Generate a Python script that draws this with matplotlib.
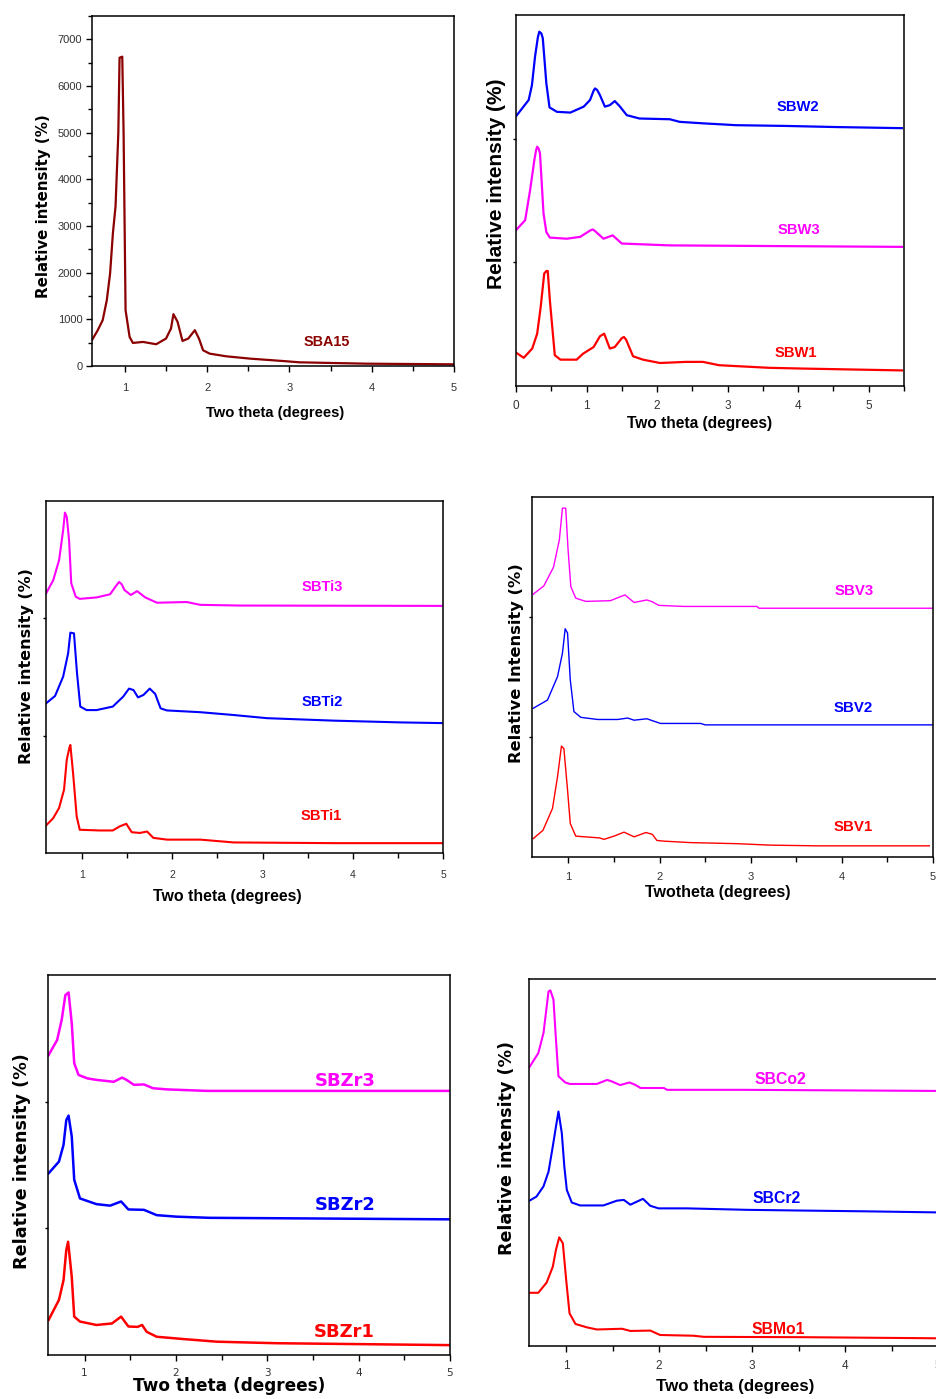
import matplotlib
matplotlib.use("Agg")
import matplotlib.pyplot as plt
from matplotlib import font_manager
from matplotlib.ticker import MultipleLocator, NullFormatter

W, H = 937, 1399

names = {f.name for f in font_manager.fontManager.ttflist}
HAS_NARROW = "Liberation Sans Narrow" in names
NARROW = ["Liberation Sans Narrow", "Liberation Sans", "DejaVu Sans"] if HAS_NARROW \
    else ["Liberation Sans", "DejaVu Sans"]
SQ = 1.0 if HAS_NARROW else 0.83   # shrink when no condensed face
ARIAL = ["Liberation Sans", "DejaVu Sans"]
WIDE = ["DejaVu Sans"]

DARKRED, BLUE, MAGENTA, RED = "#8B0000", "#0000FF", "#FF00FF", "#FF0000"

# ---- panel 1: SBA15 (counts)
sba15_x = [0.603, 0.67, 0.73, 0.78, 0.82, 0.854, 0.886, 0.92, 0.935, 0.968, 0.984, 1.008, 1.057, 1.097,
           1.22, 1.38, 1.50, 1.56, 1.59, 1.64, 1.70, 1.77, 1.85, 1.90, 1.95, 2.03, 2.23, 2.52, 2.92,
           3.12, 3.53, 3.93, 4.99]
sba15_y = [566, 767, 982, 1411, 1985, 2845, 3418, 4994, 6606, 6628, 4994, 1197, 623, 494,
           516, 466, 588, 803, 1111, 946, 537, 588, 767, 588, 337, 265, 208, 158, 107,
           79, 64, 50, 36]

# ---- panel 2: SBW (stacked, arbitrary units 0-100)
sbw2_x = [0, 0.18, 0.226, 0.27, 0.31, 0.33, 0.36, 0.38, 0.43, 0.475, 0.58, 0.77, 0.96, 1.05, 1.10, 1.12,
          1.15, 1.19, 1.26, 1.33, 1.40, 1.47, 1.57, 1.75, 2.18, 2.32, 2.65, 3.12, 3.82, 4.53, 5.47]
sbw2_y = [72.7, 77.1, 81.1, 88.8, 94.0, 95.5, 95.0, 93.7, 81.6, 75.1, 73.9, 73.7, 75.3, 77.1, 79.6, 80.2,
          79.8, 78.4, 75.3, 75.7, 76.8, 75.4, 73.0, 72.1, 71.9, 71.2, 70.8, 70.3, 70.1, 69.8, 69.5]
sbw3_x = [0, 0.13, 0.2, 0.26, 0.285, 0.30, 0.32, 0.34, 0.39, 0.43, 0.48, 0.72, 0.91, 1.05, 1.09, 1.13,
          1.24, 1.37, 1.50, 2.18, 5.47]
sbw3_y = [42.0, 44.7, 52.8, 60.9, 63.6, 64.5, 64.0, 62.7, 46.5, 41.5, 40.0, 39.7, 40.2, 41.9, 42.2, 41.6,
          39.7, 40.6, 38.4, 37.9, 37.5]
sbw1_x = [0, 0.11, 0.23, 0.30, 0.35, 0.40, 0.43, 0.45, 0.48, 0.55, 0.63, 0.86, 0.95, 1.10, 1.19, 1.25,
          1.33, 1.40, 1.50, 1.53, 1.56, 1.66, 1.80, 2.04, 2.41, 2.65, 2.88, 3.59, 4.06, 5.47]
sbw1_y = [9.0, 7.6, 10.1, 14.1, 21.3, 30.3, 31.0, 31.0, 23.1, 8.3, 7.1, 7.1, 8.7, 10.5, 13.4, 14.1,
          10.1, 10.5, 12.9, 13.2, 12.5, 8.0, 7.1, 6.2, 6.5, 6.5, 5.6, 4.9, 4.7, 4.2]

# ---- panel 3: SBTi
sbti3_x = [0.6, 0.68, 0.745, 0.79, 0.81, 0.83, 0.856, 0.88, 0.93, 0.974, 1.16, 1.31, 1.38, 1.41, 1.44,
           1.47, 1.54, 1.61, 1.70, 1.83, 2.16, 2.31, 2.75, 5.0]
sbti3_y = [73.7, 77.5, 83.2, 91.7, 96.7, 95.5, 88.8, 76.6, 72.8, 72.2, 72.6, 73.5, 76.0, 77.0, 76.3,
           74.7, 73.3, 74.4, 72.6, 71.1, 71.3, 70.5, 70.3, 70.2]
sbti2_x = [0.6, 0.70, 0.79, 0.845, 0.87, 0.91, 0.944, 0.98, 1.05, 1.16, 1.34, 1.455, 1.52, 1.57, 1.62,
           1.68, 1.75, 1.81, 1.87, 1.94, 2.31, 2.68, 3.05, 3.79, 4.53, 5.0]
sbti2_y = [42.5, 44.6, 50.1, 56.7, 62.6, 62.4, 51.0, 41.6, 40.6, 40.6, 41.6, 44.4, 46.7, 46.3, 44.2,
           44.9, 46.7, 45.2, 41.1, 40.5, 40.0, 39.2, 38.3, 37.6, 37.1, 36.9]
sbti1_x = [0.6, 0.68, 0.745, 0.80, 0.83, 0.86, 0.87, 0.90, 0.94, 0.974, 1.196, 1.34, 1.42, 1.49, 1.55,
           1.64, 1.72, 1.79, 1.94, 2.31, 2.68, 3.79, 4.53, 5.0]
sbti1_y = [7.8, 9.9, 12.8, 18.0, 26.5, 30.0, 30.7, 22.7, 10.4, 6.6, 6.4, 6.4, 7.6, 8.3, 5.9,
           5.7, 6.1, 4.3, 3.8, 3.8, 3.0, 2.8, 2.8, 2.8]

# ---- panel 4: SBV
sbv3_x = [0.613, 0.73, 0.836, 0.90, 0.934, 0.97, 0.996, 1.026, 1.08, 1.19, 1.46, 1.62, 1.72, 1.86, 1.92,
          1.99, 2.27, 3.07, 3.09, 5.0]
sbv3_y = [73.0, 75.3, 80.5, 88.1, 96.9, 96.9, 85.3, 75.1, 71.9, 71.0, 71.2, 72.8, 70.7, 71.4, 70.9,
          69.9, 69.6, 69.6, 69.1, 69.1]
sbv2_x = [0.613, 0.77, 0.88, 0.934, 0.964, 0.99, 1.02, 1.06, 1.135, 1.32, 1.54, 1.65, 1.72, 1.86, 2.01,
          2.45, 2.50, 5.0]
sbv2_y = [41.3, 43.6, 50.1, 56.6, 63.4, 62.2, 49.2, 40.4, 38.8, 38.2, 38.2, 38.6, 38.0, 38.4, 37.1,
          37.1, 36.7, 36.7]
sbv1_x = [0.613, 0.72, 0.825, 0.88, 0.923, 0.95, 0.99, 1.02, 1.08, 1.34, 1.39, 1.50, 1.61, 1.72, 1.85,
          1.92, 1.97, 2.05, 2.34, 2.85, 3.21, 3.72, 4.96]
sbv1_y = [5.1, 7.4, 13.5, 22.3, 30.8, 30.1, 18.6, 9.3, 5.8, 5.3, 4.9, 5.8, 6.9, 5.6, 6.8,
          6.3, 4.6, 4.4, 4.0, 3.7, 3.3, 3.1, 3.1]

# ---- panel 5: SBZr
sbzr3_x = [0.606, 0.70, 0.75, 0.79, 0.825, 0.86, 0.887, 0.934, 1.03, 1.13, 1.32, 1.41, 1.46, 1.54, 1.65,
           1.75, 1.90, 2.34, 5.0]
sbzr3_y = [78.9, 82.9, 88.2, 94.7, 95.4, 87.3, 76.8, 73.7, 72.8, 72.4, 71.9, 73.0, 72.4, 71.1, 71.2,
           70.2, 69.9, 69.5, 69.5]
sbzr2_x = [0.606, 0.72, 0.77, 0.80, 0.825, 0.86, 0.887, 0.95, 1.13, 1.28, 1.40, 1.48, 1.65, 1.79, 2.01,
           2.37, 5.0]
sbzr2_y = [47.8, 50.9, 55.3, 61.8, 63.0, 57.5, 46.1, 41.2, 39.7, 39.3, 40.4, 38.3, 38.2, 36.8, 36.4,
           36.1, 35.7]
sbzr1_x = [0.606, 0.72, 0.77, 0.80, 0.82, 0.86, 0.887, 0.95, 1.13, 1.30, 1.40, 1.48, 1.58, 1.63, 1.68,
           1.79, 2.08, 2.45, 3.10, 5.0]
sbzr1_y = [9.2, 14.5, 19.7, 27.6, 29.8, 20.6, 10.1, 8.8, 7.9, 8.3, 10.1, 7.5, 7.4, 7.9, 6.1,
           4.8, 4.2, 3.5, 3.1, 2.6]

# ---- panel 6: SBCo2 / SBCr2 / SBMo1
sbco2_x = [0.605, 0.70, 0.756, 0.81, 0.83, 0.863, 0.89, 0.917, 0.99, 1.04, 1.33, 1.44, 1.49, 1.58, 1.68,
           1.74, 1.80, 2.05, 2.085, 2.91, 5.0]
sbco2_y = [76.0, 79.8, 85.3, 96.6, 96.9, 94.4, 83.5, 73.5, 71.8, 71.4, 71.4, 72.5, 72.1, 71.1, 71.8,
           71.2, 70.3, 70.3, 69.8, 69.8, 69.5]
sbcr2_x = [0.605, 0.68, 0.756, 0.81, 0.856, 0.89, 0.917, 0.953, 0.98, 1.007, 1.06, 1.15, 1.40, 1.546,
           1.62, 1.69, 1.826, 1.905, 1.995, 2.30, 2.95, 3.56, 4.21, 5.0]
sbcr2_y = [39.6, 40.7, 43.5, 47.5, 54.4, 59.8, 63.9, 58.0, 48.9, 42.5, 39.1, 38.3, 38.3, 39.6,
           39.8, 38.5, 40.1, 38.2, 37.5, 37.5, 37.1, 36.9, 36.7, 36.4]
sbmo1_x = [0.605, 0.70, 0.79, 0.856, 0.89, 0.925, 0.964, 1.0, 1.036, 1.10, 1.22, 1.33, 1.60, 1.69, 1.905,
           2.01, 2.37, 2.48, 3.56, 5.0]
sbmo1_y = [14.5, 14.5, 17.3, 21.6, 26.2, 29.6, 28.0, 18.0, 8.9, 6.0, 5.1, 4.5, 4.7, 4.1, 4.2,
           3.0, 2.8, 2.5, 2.4, 2.1]


def px_axes(fig, left, top, right, bottom):
    return fig.add_axes([left / W, 1 - bottom / H, (right - left) / W, (bottom - top) / H])


def px_text(fig, x, y, s, **kw):
    fig.text(x / W, 1 - y / H, s, ha="center", va="center", **kw)


def style(ax, xlim, ylim, xmajor, tick_fs, tick_fam, pad, stacked=True):
    ax.set_xlim(*xlim)
    ax.set_ylim(*ylim)
    for sp in ax.spines.values():
        sp.set_linewidth(1.1)
    ax.xaxis.set_major_locator(MultipleLocator(xmajor))
    ax.xaxis.set_minor_locator(MultipleLocator(0.5))
    ax.tick_params(axis="x", which="major", direction="out", length=4, width=1, pad=pad,
                   labelsize=tick_fs, labelcolor="#333333")
    ax.tick_params(axis="x", which="minor", direction="out", length=3.5, width=1)
    for lb in ax.get_xticklabels():
        lb.set_family(tick_fam)
    if stacked:
        ax.set_yticks([100 / 3, 200 / 3])
        ax.yaxis.set_major_formatter(NullFormatter())
        ax.tick_params(axis="y", direction="out", length=2.5, width=1)


fig = plt.figure(figsize=(W / 100, H / 100), dpi=100)

# panel 1
ax = px_axes(fig, 92, 16, 454, 366)
ax.plot(sba15_x, sba15_y, color=DARKRED, lw=1.6)
style(ax, (0.6, 5), (0, 7500), 1, 8, ARIAL, 8, stacked=False)
ax.yaxis.set_major_locator(MultipleLocator(1000))
ax.yaxis.set_minor_locator(MultipleLocator(500))
ax.tick_params(axis="y", which="major", direction="out", length=4, width=1, pad=3,
               labelsize=8, labelcolor="#333333")
ax.tick_params(axis="y", which="minor", direction="out", length=3, width=1)
for lb in ax.get_yticklabels():
    lb.set_family(ARIAL)
ax.text(3.45, 515, "SBA15", color=DARKRED, fontsize=12.5 * SQ, fontweight="bold", family=NARROW,
        ha="center", va="center")
px_text(fig, 44, 206, "Relative intensity (%)", rotation=90, fontsize=10.8, fontweight="bold", family=WIDE)
px_text(fig, 275, 413, "Two theta (degrees)", fontsize=12.8 * SQ, fontweight="bold", family=NARROW)

# panel 2
ax = px_axes(fig, 516, 15, 904, 386)
ax.plot(sbw2_x, sbw2_y, color=BLUE, lw=1.6)
ax.plot(sbw3_x, sbw3_y, color=MAGENTA, lw=1.6)
ax.plot(sbw1_x, sbw1_y, color=RED, lw=1.6)
style(ax, (0, 5.5), (0, 100), 1, 8.5, ARIAL, 6)
for x, y, s, c in [(4.0, 75.1, "SBW2", BLUE), (4.01, 42.0, "SBW3", MAGENTA), (3.96, 8.9, "SBW1", RED)]:
    ax.text(x, y, s, color=c, fontsize=12.8 * SQ, fontweight="bold", family=NARROW, ha="center", va="center")
px_text(fig, 497, 184, "Relative intensity (%)", rotation=90, fontsize=15, fontweight="bold", family=ARIAL)
px_text(fig, 700, 423, "Two theta (degrees)", fontsize=13.5 * SQ, fontweight="bold", family=NARROW)

# panel 3
ax = px_axes(fig, 46, 501, 443, 853)
ax.plot(sbti3_x, sbti3_y, color=MAGENTA, lw=1.5)
ax.plot(sbti2_x, sbti2_y, color=BLUE, lw=1.5)
ax.plot(sbti1_x, sbti1_y, color=RED, lw=1.5)
style(ax, (0.6, 5), (0, 100), 1, 7.5, ARIAL, 8)
for x, y, s, c in [(3.66, 75.6, "SBTi3", MAGENTA), (3.66, 42.8, "SBTi2", BLUE), (3.65, 10.4, "SBTi1", RED)]:
    ax.text(x, y, s, color=c, fontsize=12.8 * SQ, fontweight="bold", family=NARROW, ha="center", va="center")
px_text(fig, 27, 666, "Relative intensity (%)", rotation=90, fontsize=11.5, fontweight="bold", family=WIDE)
px_text(fig, 227, 896, "Two theta (degrees)", fontsize=13.8 * SQ, fontweight="bold", family=NARROW)

# panel 4
ax = px_axes(fig, 532, 497, 933, 857)
ax.plot(sbv3_x, sbv3_y, color=MAGENTA, lw=1.0)
ax.plot(sbv2_x, sbv2_y, color=BLUE, lw=1.0)
ax.plot(sbv1_x, sbv1_y, color=RED, lw=1.0)
style(ax, (0.6, 5), (0, 100), 1, 8, ARIAL, 7)
for x, y, s, c in [(4.13, 73.9, "SBV3", MAGENTA), (4.12, 41.3, "SBV2", BLUE), (4.12, 8.3, "SBV1", RED)]:
    ax.text(x, y, s, color=c, fontsize=13 * SQ, fontweight="bold", family=NARROW, ha="center", va="center")
px_text(fig, 517, 663, "Relative Intensity (%)", rotation=90, fontsize=11.7, fontweight="bold", family=WIDE)
px_text(fig, 718, 893, "Twotheta (degrees)", fontsize=13.9 * SQ, fontweight="bold", family=NARROW)

# panel 5
ax = px_axes(fig, 48, 975, 450, 1355)
ax.plot(sbzr3_x, sbzr3_y, color=MAGENTA, lw=1.8)
ax.plot(sbzr2_x, sbzr2_y, color=BLUE, lw=1.8)
ax.plot(sbzr1_x, sbzr1_y, color=RED, lw=1.8)
style(ax, (0.6, 5), (0, 100), 1, 7.5, WIDE, 5)
for x, y, s, c in [(3.85, 72.2, "SBZr3", MAGENTA), (3.85, 39.5, "SBZr2", BLUE), (3.84, 6.1, "SBZr1", RED)]:
    ax.text(x, y, s, color=c, fontsize=13, fontweight="bold", family=WIDE, ha="center", va="center")
px_text(fig, 22, 1161, "Relative intensity (%)", rotation=90, fontsize=12.7, fontweight="bold", family=WIDE)
px_text(fig, 229, 1386, "Two theta (degrees)", fontsize=12.2, fontweight="bold", family=WIDE)

# panel 6
ax = px_axes(fig, 529, 979, 938, 1346)
ax.plot(sbco2_x, sbco2_y, color=MAGENTA, lw=1.5)
ax.plot(sbcr2_x, sbcr2_y, color=BLUE, lw=1.5)
ax.plot(sbmo1_x, sbmo1_y, color=RED, lw=1.5)
style(ax, (0.6, 5), (0, 100), 1, 8.5, ARIAL, 6)
ax.set_yticks([])
for x, y, s, c in [(3.30, 72.7, "SBCo2", MAGENTA), (3.26, 40.3, "SBCr2", BLUE), (3.28, 4.5, "SBMo1", RED)]:
    ax.text(x, y, s, color=c, fontsize=13.7 * SQ, fontweight="bold", family=NARROW, ha="center", va="center")
px_text(fig, 507, 1148, "Relative intensity (%)", rotation=90, fontsize=12.6, fontweight="bold", family=WIDE)
px_text(fig, 735, 1387, "Two theta (degrees)", fontsize=14.7 * SQ, fontweight="bold", family=NARROW)

fig.savefig("out.png", dpi=100)
